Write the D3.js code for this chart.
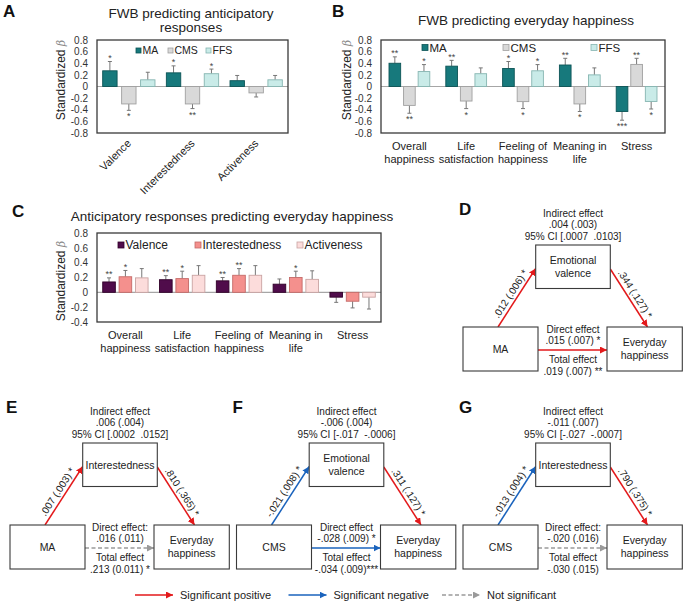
<!DOCTYPE html>
<html>
<head>
<meta charset="utf-8">
<script src="https://cdn.jsdelivr.net/npm/d3@7"></script>
<style>
  body { margin: 0; background: #fff; }
  svg { display: block; font-family: Arial, "Liberation Sans", sans-serif; }
</style>
</head>
<body>
<svg id="fig" width="685" height="604"></svg>
<script>
// ---- data ----
const fwbSeries = ['MA', 'CMS', 'FFS'];
const responseSeries = ['Valence', 'Interestedness', 'Activeness'];

const anticipCategories = ['Valence', 'Interestedness', 'Activeness'];
const anticipBeta = [[0.27, -0.30, 0.115], [0.235, -0.30, 0.22], [0.10, -0.11, 0.115]];
const anticipErr = [[0.16, 0.11, 0.13], [0.12, 0.08, 0.08], [0.09, 0.07, 0.075]];
const anticipStars = [['*', '*', ''], ['*', '**', '*'], ['', '', '']];

const happinessCategories = [['Overall', 'happiness'], ['Life', 'satisfaction'], ['Feeling of', 'happiness'], ['Meaning in', 'life'], ['Stress']];
const fwbHappyBeta = [[0.40, -0.325, 0.257], [0.35, -0.25, 0.22], [0.31, -0.26, 0.27], [0.37, -0.30, 0.20], [-0.43, 0.38, -0.257]];
const fwbHappyErr = [[0.11, 0.135, 0.12], [0.10, 0.13, 0.10], [0.12, 0.12, 0.107], [0.115, 0.13, 0.12], [0.15, 0.105, 0.13]];
const fwbHappyStars = [['**', '**', '*'], ['**', '*', ''], ['*', '*', '*'], ['**', '*', ''], ['***', '**', '*']];

const respHappyBeta = [[0.14, 0.21, 0.195], [0.17, 0.185, 0.23], [0.155, 0.23, 0.23], [0.11, 0.20, 0.175], [-0.065, -0.12, -0.065]];
const respHappyErr = [[0.055, 0.085, 0.125], [0.055, 0.10, 0.13], [0.045, 0.09, 0.13], [0.07, 0.085, 0.115], [0.07, 0.09, 0.16]];
const respHappyStars = [['**', '*', ''], ['**', '*', ''], ['**', '**', ''], ['', '*', ''], ['', '', '']];

const yTicksWide = [0.8, 0.6, 0.4, 0.2, 0, -0.2, -0.4, -0.6, -0.8];
const yTicksShort = [0.8, 0.6, 0.4, 0.2, 0, -0.2, -0.4];

// mediation panels D, E, F, G
const medLetters = ['D', 'E', 'F', 'G'];
const medPredictors = ['MA', 'MA', 'CMS', 'CMS'];
const medMediators = [['Emotional', 'valence'], ['Interestedness'], ['Emotional', 'valence'], ['Interestedness']];
const medIndirect = [['.004 (.003)', '95% CI [.0007  .0103]'], ['.006 (.004)', '95% CI [.0002  .0152]'],
                     ['-.006 (.004)', '95% CI [-.017  -.0006]'], ['-.011 (.007)', '95% CI [-.027  -.0007]']];
const medPathA = ['.012 (.006) *', '.007 (.003) *', '-.021 (.008) *', '-.013 (.004) *'];
const medPathB = ['.344 (.127) *', '.810 (.365) *', '.311 (.127) *', '.790 (.375) *'];
const medDirect = [['Direct effect', '.015 (.007) *'], ['Direct effect:', '.016 (.011)'],
                   ['Direct effect', '-.028 (.009) *'], ['Direct effect:', '-.020 (.016)']];
const medTotal = [['Total effect', '.019 (.007) **'], ['Total effect', '.213 (0.011) *'],
                  ['Total effect', '-.034 (.009)***'], ['Total effect', '-.030 (.015)']];
const medSign = [['pos', 'pos', 'pos'], ['pos', 'pos', 'ns'], ['neg', 'pos', 'neg'], ['neg', 'pos', 'ns']];

const legendKinds = ['pos', 'neg', 'ns'];
const legendLabels = ['Significant positive', 'Significant negative', 'Not significant'];

// ---- drawing ----
const svg = d3.select('#fig');
const ink = '#222';
const arrowColors = { pos: '#e3191b', neg: '#1a63bd', ns: '#9a9a9a' };

const defs = svg.append('defs');
Object.entries(arrowColors).forEach(([k, c]) => {
  defs.append('marker')
    .attr('id', 'arr-' + k)
    .attr('viewBox', '0 0 10 10')
    .attr('refX', 10).attr('refY', 5)
    .attr('markerWidth', 7).attr('markerHeight', 7)
    .attr('markerUnits', 'userSpaceOnUse')
    .attr('orient', 'auto')
    .append('path').attr('d', 'M0,0L10,5L0,10z').attr('fill', c);
});

function tickFmt(v) {
  return v === 0 ? '0' : v.toFixed(1);
}

function barPanel(o) {
  const g = svg.append('g');
  const x0 = d3.scaleBand().domain(d3.range(o.cats.length)).range([o.left, o.right]);
  const x1 = d3.scaleBand().domain(o.series).range([0, x0.bandwidth()])
    .paddingInner(o.padIn).paddingOuter(o.padOut);
  const y = d3.scaleLinear().domain(o.domain).range([o.bottom, o.top]);

  // y axis labels, no tick marks
  const ax = g.append('g')
    .attr('transform', `translate(${o.left},0)`)
    .call(d3.axisLeft(y).tickValues(o.ticks).tickSize(0).tickPadding(9).tickFormat(tickFmt));
  ax.select('.domain').remove();
  ax.selectAll('text').attr('font-size', 10).attr('fill', '#333').attr('font-family', 'Arial, "Liberation Sans", sans-serif');

  // zero line
  g.append('line')
    .attr('x1', o.left).attr('x2', o.right)
    .attr('y1', y(0)).attr('y2', y(0))
    .attr('stroke', '#a6a6a6').attr('stroke-width', 1.2);

  const rows = o.cats.flatMap((c, i) => o.series.map((s, j) => ({
    i, s, j, v: o.beta[i][j], e: o.err[i][j], star: o.stars[i][j]
  })));
  const cx = d => x0(d.i) + x1(d.s) + x1.bandwidth() / 2;
  const tip = d => y(d.v >= 0 ? d.v + d.e : d.v - d.e);

  // error bars (one-sided)
  g.selectAll('line.err').data(rows).join('line')
    .attr('class', 'err')
    .attr('x1', cx).attr('x2', cx)
    .attr('y1', d => y(d.v)).attr('y2', tip)
    .attr('stroke', '#777').attr('stroke-width', 1);
  g.selectAll('line.cap').data(rows).join('line')
    .attr('class', 'cap')
    .attr('x1', d => cx(d) - 2).attr('x2', d => cx(d) + 2)
    .attr('y1', tip).attr('y2', tip)
    .attr('stroke', '#777').attr('stroke-width', 1);

  g.selectAll('rect.bar').data(rows).join('rect')
    .attr('class', 'bar')
    .attr('x', d => x0(d.i) + x1(d.s))
    .attr('width', x1.bandwidth())
    .attr('y', d => y(Math.max(0, d.v)))
    .attr('height', d => Math.abs(y(d.v) - y(0)))
    .attr('fill', d => o.fills[d.j])
    .attr('stroke', d => o.strokes[d.j])
    .attr('stroke-width', 0.9);

  // significance stars
  g.selectAll('text.star').data(rows.filter(d => d.star)).join('text')
    .attr('class', 'star')
    .attr('x', cx)
    .attr('y', d => d.v >= 0 ? tip(d) - 0.5 : tip(d) + 9)
    .attr('text-anchor', 'middle')
    .attr('font-size', 9)
    .attr('fill', '#444')
    .text(d => d.star);

  // frame
  g.append('rect')
    .attr('x', o.left).attr('y', o.top)
    .attr('width', o.right - o.left).attr('height', o.bottom - o.top)
    .attr('fill', 'none').attr('stroke', '#3a3a3a').attr('stroke-width', 1.3);

  // legend
  const lg = g.selectAll('g.leg').data(o.series).join('g')
    .attr('transform', (s, j) => `translate(${o.legendX[j]},${o.legendY})`);
  lg.append('rect')
    .attr('x', 0).attr('y', -o.legendSq / 2)
    .attr('width', o.legendSq).attr('height', o.legendSq)
    .attr('fill', (s, j) => o.fills[j]).attr('stroke', (s, j) => o.strokes[j]).attr('stroke-width', 0.8);
  lg.append('text')
    .attr('x', o.legendSq + 1.5).attr('y', o.legendFont * 0.36)
    .attr('font-size', o.legendFont).attr('fill', ink)
    .text(s => s);

  // y title
  const yt = g.append('text')
    .attr('transform', `translate(${o.yTitleX},${o.yTitleY}) rotate(-90)`)
    .attr('text-anchor', 'middle')
    .attr('font-size', 12).attr('fill', ink);
  yt.append('tspan').text('Standardized ');
  yt.append('tspan').attr('font-style', 'italic').attr('font-family', '"DejaVu Serif", serif')
    .attr('fill', '#888').attr('font-size', 11).text('β');

  // category labels
  if (o.rotateLabels) {
    g.selectAll('text.cat').data(o.cats).join('text')
      .attr('class', 'cat')
      .attr('transform', (c, i) => `translate(${x0(i) + x0.bandwidth() / 2 + 3},${o.bottom + 11}) rotate(-45)`)
      .attr('text-anchor', 'end')
      .attr('font-size', 11).attr('fill', ink)
      .text(c => c);
  } else {
    const t = g.selectAll('text.cat').data(o.cats).join('text')
      .attr('class', 'cat')
      .attr('text-anchor', 'middle')
      .attr('font-size', 11).attr('fill', ink);
    t.selectAll('tspan').data(c => c).join('tspan')
      .attr('x', function () { const i = o.cats.indexOf(d3.select(this.parentNode).datum()); return x0(i) + x0.bandwidth() / 2; })
      .attr('y', (line, k) => o.bottom + 17 + k * 12.5)
      .text(line => line);
  }

  // title
  const tt = g.append('text').attr('text-anchor', 'middle').attr('font-size', 13.5).attr('fill', ink);
  o.title.forEach((line, k) => {
    tt.append('tspan').attr('x', o.titleX).attr('y', o.titleY + k * 13.5).text(line);
  });

  g.append('text')
    .attr('x', o.letter[1]).attr('y', o.letter[2])
    .attr('font-size', 17).attr('font-weight', 'bold').attr('fill', '#111')
    .text(o.letter[0]);
}

const fwbFills = ['#17797c', '#d9d9d9', '#c9ebe8'];
const fwbStrokes = ['#0c5456', '#a0a0a0', '#86b5b1'];

barPanel({
  cats: anticipCategories, series: fwbSeries,
  beta: anticipBeta, err: anticipErr, stars: anticipStars,
  left: 97, right: 288, top: 40, bottom: 133,
  domain: [-0.8, 0.8], ticks: yTicksWide,
  padIn: 0.24, padOut: 0.3,
  fills: fwbFills, strokes: fwbStrokes,
  legendX: [136, 168, 206], legendY: 50.5, legendSq: 5, legendFont: 10.5,
  yTitleX: 65, yTitleY: 80,
  rotateLabels: true,
  title: ['FWB predicting anticipatory', 'responses'], titleX: 191, titleY: 18,
  letter: ['A', 3, 17]
});

barPanel({
  cats: happinessCategories, series: fwbSeries,
  beta: fwbHappyBeta, err: fwbHappyErr, stars: fwbHappyStars,
  left: 381, right: 665, top: 40, bottom: 133,
  domain: [-0.8, 0.8], ticks: yTicksWide,
  padIn: 0.2, padOut: 0.55,
  fills: fwbFills, strokes: fwbStrokes,
  legendX: [422, 503, 591], legendY: 47.5, legendSq: 6, legendFont: 11.5,
  yTitleX: 351, yTitleY: 80,
  rotateLabels: false,
  title: ['FWB predicting everyday happiness'], titleX: 526, titleY: 25,
  letter: ['B', 332, 17]
});

barPanel({
  cats: happinessCategories, series: responseSeries,
  beta: respHappyBeta, err: respHappyErr, stars: respHappyStars,
  left: 97, right: 381, top: 233, bottom: 322,
  domain: [-0.4, 0.8], ticks: yTicksShort,
  padIn: 0.23, padOut: 0.35,
  fills: ['#500c4b', '#f4908d', '#fcdcdb'], strokes: ['#300028', '#c46a68', '#c9a3a2'],
  legendX: [118, 195, 297], legendY: 245, legendSq: 6, legendFont: 12,
  yTitleX: 65, yTitleY: 281,
  rotateLabels: false,
  title: ['Anticipatory responses predicting everyday happiness'], titleX: 232, titleY: 221,
  letter: ['C', 12, 217]
});

// ---- mediation diagrams ----
const medOrigins = [[453, 245], [0, 443], [226.5, 443], [453, 443]];
const boxMed = { x: 82.7, y: 0, w: 74.6, h: 43.5 };
const boxLeft = { x: 10, y: 82, w: 75, h: 44 };
const boxRight = { x: 154, y: 82, w: 75.3, h: 44 };

function box(g, b, lines) {
  g.append('rect')
    .attr('x', b.x).attr('y', b.y).attr('width', b.w).attr('height', b.h)
    .attr('fill', '#fff').attr('stroke', '#3a3a3a').attr('stroke-width', 1.1);
  const cy = b.y + b.h / 2;
  const t = g.append('text').attr('text-anchor', 'middle').attr('font-size', 10.5).attr('fill', ink);
  lines.forEach((line, k) => {
    t.append('tspan')
      .attr('x', b.x + b.w / 2)
      .attr('y', cy + 3.8 + (k - (lines.length - 1) / 2) * 13)
      .text(line);
  });
}

function arrow(g, x1, y1, x2, y2, kind, width) {
  g.append('line')
    .attr('x1', x1).attr('y1', y1).attr('x2', x2).attr('y2', y2)
    .attr('stroke', arrowColors[kind]).attr('stroke-width', width || 1.5)
    .attr('stroke-dasharray', kind === 'ns' ? '4,2.5' : null)
    .attr('marker-end', `url(#arr-${kind})`);
}

function slopeLabel(g, x1, y1, x2, y2, text) {
  const ang = Math.atan2(y2 - y1, x2 - x1) * 180 / Math.PI;
  g.append('text')
    .attr('transform', `translate(${(x1 + x2) / 2},${(y1 + y2) / 2}) rotate(${ang})`)
    .attr('dy', -4)
    .attr('text-anchor', 'middle')
    .attr('font-size', 10).attr('fill', ink)
    .text(text);
}

medLetters.forEach((letter, k) => {
  const [ox, oy] = medOrigins[k];
  const g = svg.append('g').attr('transform', `translate(${ox},${oy})`);

  g.append('text').attr('x', 6).attr('y', -30)
    .attr('font-size', 17).attr('font-weight', 'bold').attr('fill', '#111')
    .text(letter);

  const ind = g.append('text').attr('text-anchor', 'middle').attr('font-size', 10)
    .attr('fill', ink).style('white-space', 'pre');
  ['Indirect effect'].concat(medIndirect[k]).forEach((line, j) => {
    ind.append('tspan').attr('x', 120).attr('y', -28.5 + j * 11.5).text(line);
  });

  const a = [45, boxLeft.y, boxMed.x, 23.5];
  const b = [boxMed.x + boxMed.w, 24, 194.5, boxRight.y];
  const c = [boxLeft.x + boxLeft.w, 105, boxRight.x, 105];
  arrow(g, ...a, medSign[k][0]);
  arrow(g, ...b, medSign[k][1]);
  arrow(g, ...c, medSign[k][2]);
  slopeLabel(g, ...a, medPathA[k]);
  slopeLabel(g, ...b, medPathB[k]);

  box(g, boxMed, medMediators[k]);
  box(g, boxLeft, [medPredictors[k]]);
  box(g, boxRight, ['Everyday', 'happiness']);

  const eff = g.append('text').attr('text-anchor', 'middle').attr('font-size', 10).attr('fill', ink);
  medDirect[k].concat(medTotal[k]).forEach((line, j) => {
    eff.append('tspan').attr('x', 120).attr('y', [87.5, 98.5, 118, 129.5][j]).text(line);
  });
});

// ---- bottom legend ----
const legX = d3.scalePoint().domain(legendKinds).range([135, 442]);
const lgB = svg.selectAll('g.arrleg').data(legendKinds).join('g')
  .attr('class', 'arrleg')
  .attr('transform', d => `translate(${legX(d)},595)`);
lgB.each(function (d) { arrow(d3.select(this), 0, 0, 38, 0, d, 1.5); });
lgB.append('text')
  .attr('x', 45).attr('y', 4)
  .attr('font-size', 11).attr('fill', ink)
  .text((d, i) => legendLabels[i]);
</script>
</body>
</html>
